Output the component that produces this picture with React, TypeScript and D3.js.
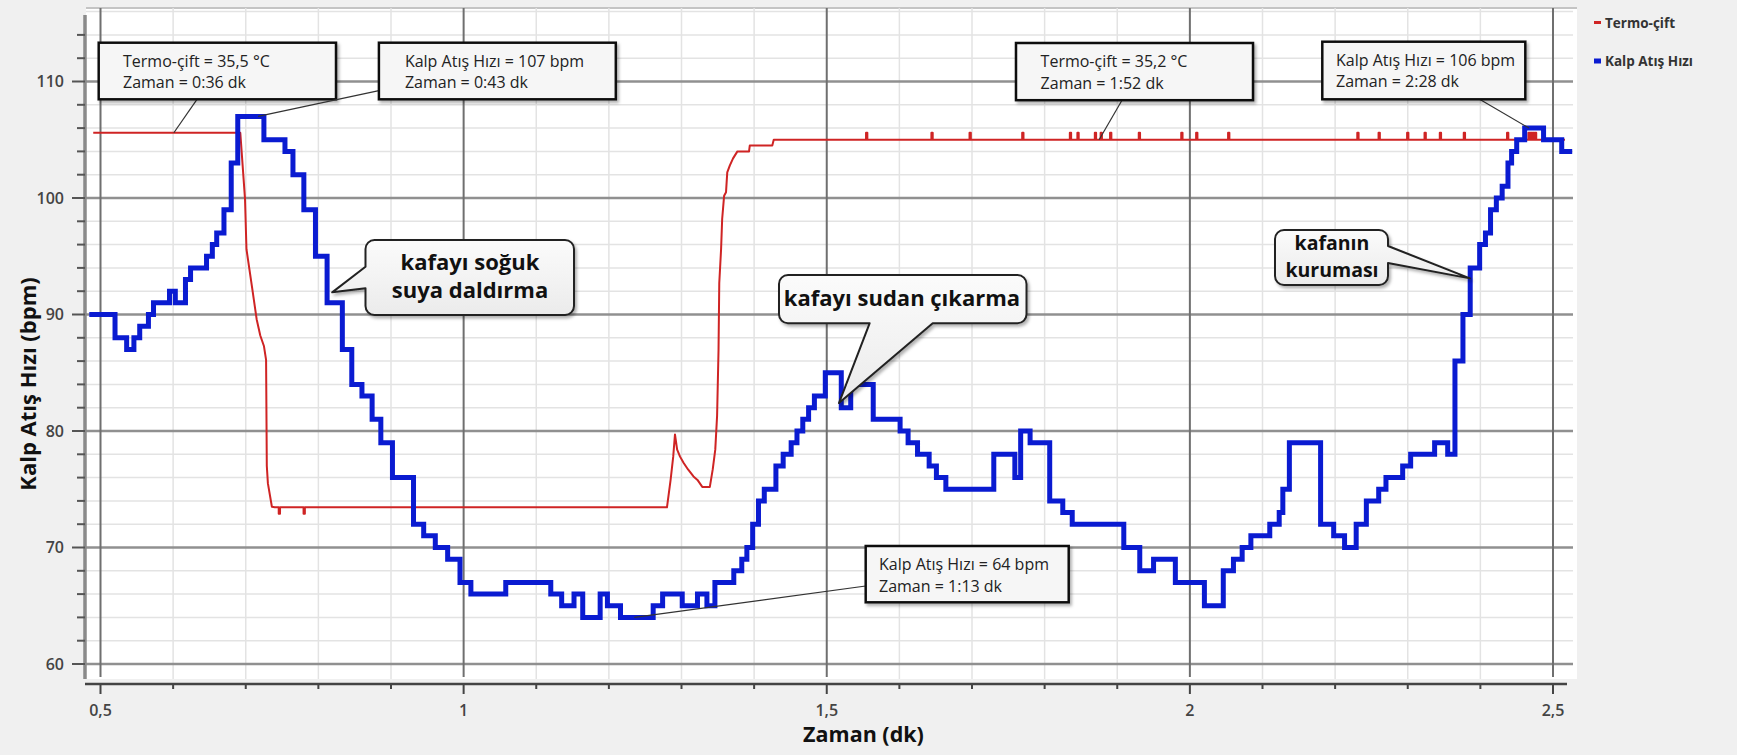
import React from 'react';
import * as d3 from 'd3';

// heart rate samples: [time (min), bpm], held until the next sample
const heartRate: [number, number][] = [
  [0.488, 90], [0.520, 88], [0.536, 87], [0.546, 88], [0.554, 89], [0.566, 90], [0.573, 91],
  [0.595, 92], [0.603, 91], [0.617, 93], [0.624, 94], [0.646, 95], [0.654, 96], [0.660, 97],
  [0.670, 99], [0.680, 103], [0.689, 107], [0.725, 105], [0.754, 104], [0.765, 102], [0.780, 99],
  [0.796, 95], [0.812, 91], [0.833, 87], [0.846, 84], [0.860, 83], [0.874, 81], [0.886, 79],
  [0.902, 76], [0.931, 72], [0.945, 71], [0.961, 70], [0.978, 69], [0.995, 67], [1.010, 66],
  [1.058, 67], [1.120, 66], [1.135, 65], [1.152, 66], [1.164, 64], [1.188, 66], [1.198, 65],
  [1.216, 64], [1.261, 65], [1.274, 66], [1.301, 65], [1.322, 66], [1.335, 65], [1.346, 67],
  [1.372, 68], [1.383, 69], [1.390, 70], [1.398, 72], [1.406, 74], [1.414, 75], [1.430, 77],
  [1.440, 78], [1.451, 79], [1.459, 80], [1.467, 81], [1.475, 82], [1.483, 83], [1.498, 85],
  [1.520, 82], [1.533, 84], [1.564, 81], [1.601, 80], [1.612, 79], [1.625, 78], [1.641, 77],
  [1.651, 76], [1.664, 75], [1.730, 78], [1.759, 76], [1.767, 80], [1.780, 79], [1.807, 74],
  [1.825, 73], [1.838, 72], [1.909, 70], [1.931, 68], [1.950, 69], [1.980, 67], [2.020, 65],
  [2.046, 68], [2.060, 69], [2.072, 70], [2.084, 71], [2.110, 72], [2.123, 73], [2.128, 75],
  [2.137, 79], [2.180, 72], [2.198, 71], [2.213, 70], [2.229, 72], [2.243, 74], [2.260, 75],
  [2.270, 76], [2.293, 77], [2.304, 78], [2.337, 79], [2.355, 78], [2.365, 86], [2.376, 90],
  [2.386, 94], [2.399, 96], [2.407, 97], [2.414, 99], [2.422, 100], [2.430, 101], [2.438, 103],
  [2.443, 104], [2.450, 105], [2.461, 106], [2.487, 105], [2.512, 104], [2.523, 104],
];

// thermocouple trace, read against the bpm scale (it has no axis of its own)
const thermoTrace: [number, number][] = [
  [0.490, 105.6], [0.6925, 105.6], [0.699, 99.9], [0.701, 95.6], [0.709, 92.2], [0.715, 89.6],
  [0.720, 88.2], [0.725, 87.3], [0.728, 86.1], [0.729, 77.0], [0.7305, 75.5], [0.736, 73.5],
  [0.740, 73.45], [1.280, 73.45], [1.285, 75.8], [1.2886, 77.8], [1.291, 79.7], [1.294, 78.4],
  [1.298, 77.8], [1.303, 77.25], [1.309, 76.7], [1.3165, 76.1], [1.322, 75.8], [1.3286, 75.2],
  [1.339, 75.2], [1.343, 76.7], [1.3465, 78.4], [1.349, 81.3], [1.351, 87], [1.352, 92.7],
  [1.3545, 95.6], [1.356, 98.2], [1.3587, 100.2], [1.3613, 100.5], [1.363, 102.2], [1.3666, 102.8],
  [1.371, 103.4], [1.377, 104], [1.393, 104], [1.394, 104.5], [1.425, 104.5], [1.427, 105.0],
  [2.5165, 105.0],
];
// short one-sample jumps on the flat parts: [time, level, jumped-to level]
const thermoSpikes: [number, number, number][] = [
  [0.7463, 73.45, 72.9], [0.7805, 73.45, 72.9],
  [1.555, 105, 105.6], [1.645, 105, 105.6], [1.6975, 105, 105.6], [1.770, 105, 105.6],
  [1.8356, 105, 105.6], [1.846, 105, 105.6], [1.870, 105, 105.6], [1.878, 105, 105.6],
  [1.891, 105, 105.6], [1.9305, 105, 105.6], [1.989, 105, 105.6], [2.0095, 105, 105.6],
  [2.0535, 105, 105.6], [2.2314, 105, 105.6], [2.2607, 105, 105.6], [2.300, 105, 105.6],
  [2.324, 105, 105.6], [2.345, 105, 105.6], [2.378, 105, 105.6], [2.4376, 105, 105.6],
  [2.467, 105, 105.6], [2.470, 105, 105.6], [2.473, 105, 105.6], [2.476, 105, 105.6],
];

const yMajorTicks = [60, 70, 80, 90, 100, 110];
const xMajorTicks = [0.5, 1, 1.5, 2, 2.5];
const xTickLabels = ['0,5', '1', '1,5', '2', '2,5'];

const legendItems = ['Termo-çift', 'Kalp Atış Hızı'];

// hover read-outs: text lines and the point they refer to
const tooltipTexts = [
  ['Termo-çift = 35,5 °C', 'Zaman = 0:36 dk'],
  ['Kalp Atış Hızı = 107 bpm', 'Zaman = 0:43 dk'],
  ['Termo-çift = 35,2 °C', 'Zaman = 1:52 dk'],
  ['Kalp Atış Hızı = 106 bpm', 'Zaman = 2:28 dk'],
  ['Kalp Atış Hızı = 64 bpm', 'Zaman = 1:13 dk'],
];
const tooltipTargets: [number, number][] = [[0.601, 105.6], [0.717, 107], [1.875, 105], [2.467, 106], [1.235, 64]];

const calloutTexts = [
  ['kafayı soğuk', 'suya daldırma'],
  ['kafayı sudan çıkarma'],
  ['kafanın', 'kuruması'],
];
const calloutTargets: [number, number][] = [[0.819, 91.9], [1.5168, 82.4], [2.3856, 93.1]];

const W = 1737;
const H = 755;
const plot = { left: 86, right: 1577, top: 8, bottom: 679 };
const axisY = 684;
const axisX = 85;

const RED = '#cf2424';
const BLUE = '#0a1bd1';
const FONT = '"Open Sans", "DejaVu Sans", sans-serif';

const tooltipBoxes = [
  { x: 98.7, y: 42.7, w: 237.3, h: 56.6, tx: 24.3, from: [197, 99.3] },
  { x: 378.9, y: 42.7, w: 236.9, h: 56.6, tx: 26, from: [378.9, 90.7] },
  { x: 1016, y: 43, w: 237, h: 57.2, tx: 24.6, from: [1122, 100.2] },
  { x: 1322.3, y: 41.7, w: 203, h: 57.6, tx: 13.7, from: [1479.6, 99.3] },
  { x: 865.7, y: 546, w: 203, h: 56.3, tx: 13.3, from: [865.7, 586] },
];

const calloutBoxes = [
  { x: 365.5, y: 240, w: 208.5, h: 75, side: 'left', a: 266.7, b: 288.3, cx: 470, base: [270, 298], fs: 22 },
  { x: 779, y: 275, w: 247.5, h: 48.3, side: 'bottom', a: 869.6, b: 932.7, cx: 902, base: [306], fs: 22 },
  { x: 1275, y: 230, w: 113, h: 55, side: 'right', a: 246, b: 263, cx: 1332, base: [250, 277], fs: 19.5 },
];

function bubblePath(bx: number, by: number, w: number, h: number, r: number,
  side: string, a: number, b: number, tip: [number, number]) {
  const p = d3.path();
  p.moveTo(bx + r, by);
  p.lineTo(bx + w - r, by);
  p.arcTo(bx + w, by, bx + w, by + r, r);
  if (side === 'right') { p.lineTo(bx + w, a); p.lineTo(tip[0], tip[1]); p.lineTo(bx + w, b); }
  p.lineTo(bx + w, by + h - r);
  p.arcTo(bx + w, by + h, bx + w - r, by + h, r);
  if (side === 'bottom') { p.lineTo(b, by + h); p.lineTo(tip[0], tip[1]); p.lineTo(a, by + h); }
  p.lineTo(bx + r, by + h);
  p.arcTo(bx, by + h, bx, by + h - r, r);
  if (side === 'left') { p.lineTo(bx, b); p.lineTo(tip[0], tip[1]); p.lineTo(bx, a); }
  p.lineTo(bx, by + r);
  p.arcTo(bx, by, bx + r, by, r);
  p.closePath();
  return p.toString();
}

export default function App() {
  const x = d3.scaleLinear().domain([0.5, 2.5]).range([100.5, 1553]);
  const y = d3.scaleLinear().domain([60, 110]).range([664, 81.5]);

  const xMinor = d3.range(5, 26).map(v => v / 10).filter(v => !xMajorTicks.includes(v));
  const yMinorGrid = d3.range(62, 117, 2).filter(v => !yMajorTicks.includes(v));
  const yMinorTicks = yMinorGrid.filter(v => v <= 114);

  const hrLine = d3.line<[number, number]>()
    .x(d => x(d[0])).y(d => y(d[1]))
    .curve(d3.curveStepAfter);

  const dw = 0.0009;
  const thermoPts = [
    ...thermoTrace,
    ...thermoSpikes.flatMap(([t, lo, hi]) => [
      [t - dw, lo], [t - dw, hi], [t + dw, hi], [t + dw, lo],
    ] as [number, number][]),
  ].sort((p, q) => p[0] - q[0]);
  const thermoLine = d3.line<[number, number]>().x(d => x(d[0])).y(d => y(d[1]));

  return (
    <svg width={W} height={H} style={{ position: 'absolute', left: 0, top: 0, fontFamily: FONT }}>
      <defs>
        <filter id="shadow" x="-10%" y="-10%" width="130%" height="140%">
          <feDropShadow dx="2" dy="2.5" stdDeviation="1.5" floodColor="#000" floodOpacity="0.3" />
        </filter>
        <linearGradient id="bubbleFill" x1="0" y1="0" x2="0" y2="1">
          <stop offset="0" stopColor="#fbfbfb" />
          <stop offset="1" stopColor="#ebebeb" />
        </linearGradient>
      </defs>

      <rect width={W} height={H} fill="#f0f0f0" />
      <rect x={plot.left} y={plot.top} width={plot.right - plot.left} height={plot.bottom - plot.top} fill="#fff" />
      <line x1={plot.left} x2={plot.right} y1={plot.top} y2={plot.top} stroke="#c4c4c4" strokeWidth={2} />

      {/* grid */}
      <g>
        {xMinor.map(v => (
          <line key={'xm' + v} x1={x(v)} x2={x(v)} y1={plot.top} y2={plot.bottom} stroke="#e3e3e3" strokeWidth={1.5} />
        ))}
        {yMinorGrid.map(v => (
          <line key={'ym' + v} x1={plot.left} x2={1573} y1={y(v)} y2={y(v)} stroke="#e3e3e3" strokeWidth={1.5} />
        ))}
        {yMajorTicks.map(v => (
          <line key={'yM' + v} x1={plot.left} x2={1573} y1={y(v)} y2={y(v)} stroke="#909090" strokeWidth={2.5} />
        ))}
        {xMajorTicks.map(v => (
          <line key={'xM' + v} x1={x(v)} x2={x(v)} y1={plot.top} y2={plot.bottom - 2} stroke="#6f6f6f" strokeWidth={2} />
        ))}
      </g>

      {/* axes */}
      <g>
        <line x1={axisX} x2={axisX} y1={15} y2={plot.bottom} stroke="#8a8a8a" strokeWidth={3.5} />
        {yMajorTicks.map(v => (
          <g key={'yt' + v}>
            <line x1={72} x2={axisX} y1={y(v)} y2={y(v)} stroke="#555" strokeWidth={2} />
            <text x={64} y={y(v) + 5.8} textAnchor="end" fontSize={16} fontWeight={600} fill="#444">{v}</text>
          </g>
        ))}
        {yMinorTicks.map(v => (
          <line key={'ytm' + v} x1={77} x2={axisX} y1={y(v)} y2={y(v)} stroke="#555" strokeWidth={2} />
        ))}
        <line x1={axisX} x2={1567} y1={axisY} y2={axisY} stroke="#444" strokeWidth={2.5} />
        {xMajorTicks.map((v, i) => (
          <g key={'xt' + v}>
            <line x1={x(v)} x2={x(v)} y1={axisY} y2={axisY + 10} stroke="#444" strokeWidth={2} />
            <text x={x(v)} y={716} textAnchor="middle" fontSize={16} fontWeight={600} fill="#444">{xTickLabels[i]}</text>
          </g>
        ))}
        {xMinor.map(v => (
          <line key={'xtm' + v} x1={x(v)} x2={x(v)} y1={axisY} y2={axisY + 5} stroke="#444" strokeWidth={2} />
        ))}
        <text transform="translate(36,384) rotate(-90)" textAnchor="middle" fontSize={22} fontWeight={700} fill="#111">
          Kalp Atış Hızı (bpm)
        </text>
        <text x={863.5} y={742} textAnchor="middle" fontSize={21.5} fontWeight={700} fill="#111">Zaman (dk)</text>
      </g>

      {/* series */}
      <path d={thermoLine(thermoPts) ?? ''} fill="none" stroke={RED} strokeWidth={2} strokeLinejoin="round" />
      <path d={hrLine(heartRate) ?? ''} fill="none" stroke={BLUE} strokeWidth={5} strokeLinejoin="miter" strokeLinecap="square" />

      {/* legend */}
      <g fontSize={13.5} fontWeight={700} fill="#333">
        <line x1={1594} x2={1601} y1={22.5} y2={22.5} stroke={RED} strokeWidth={3} />
        <text x={1605} y={27.5}>{legendItems[0]}</text>
        <line x1={1594} x2={1601} y1={61} y2={61} stroke={BLUE} strokeWidth={5} />
        <text x={1605} y={66}>{legendItems[1]}</text>
      </g>

      {/* read-out boxes */}
      {tooltipBoxes.map((b, i) => {
        const [tx, ty] = tooltipTargets[i];
        return (
          <g key={'tt' + i}>
            <line x1={b.from[0]} y1={b.from[1]} x2={x(tx)} y2={y(ty)} stroke="#333" strokeWidth={1.2} />
            <rect x={b.x} y={b.y} width={b.w} height={b.h} fill="#f6f6f6" stroke="#111" strokeWidth={2.5} filter="url(#shadow)" />
            {tooltipTexts[i].map((s, j) => (
              <text key={j} x={b.x + b.tx} y={b.y + 24 + j * 21.6} fontSize={16} fill="#222">{s}</text>
            ))}
          </g>
        );
      })}

      {/* callouts */}
      {calloutBoxes.map((b, i) => {
        const [tx, ty] = calloutTargets[i];
        return (
          <g key={'co' + i}>
            <path d={bubblePath(b.x, b.y, b.w, b.h, 9, b.side, b.a, b.b, [x(tx), y(ty)])}
              fill="url(#bubbleFill)" stroke="#222" strokeWidth={2} strokeLinejoin="round" filter="url(#shadow)" />
            {calloutTexts[i].map((s, j) => (
              <text key={j} x={b.cx} y={b.base[j]} textAnchor="middle" fontSize={b.fs} fontWeight={700} fill="#111">{s}</text>
            ))}
          </g>
        );
      })}
    </svg>
  );
}
